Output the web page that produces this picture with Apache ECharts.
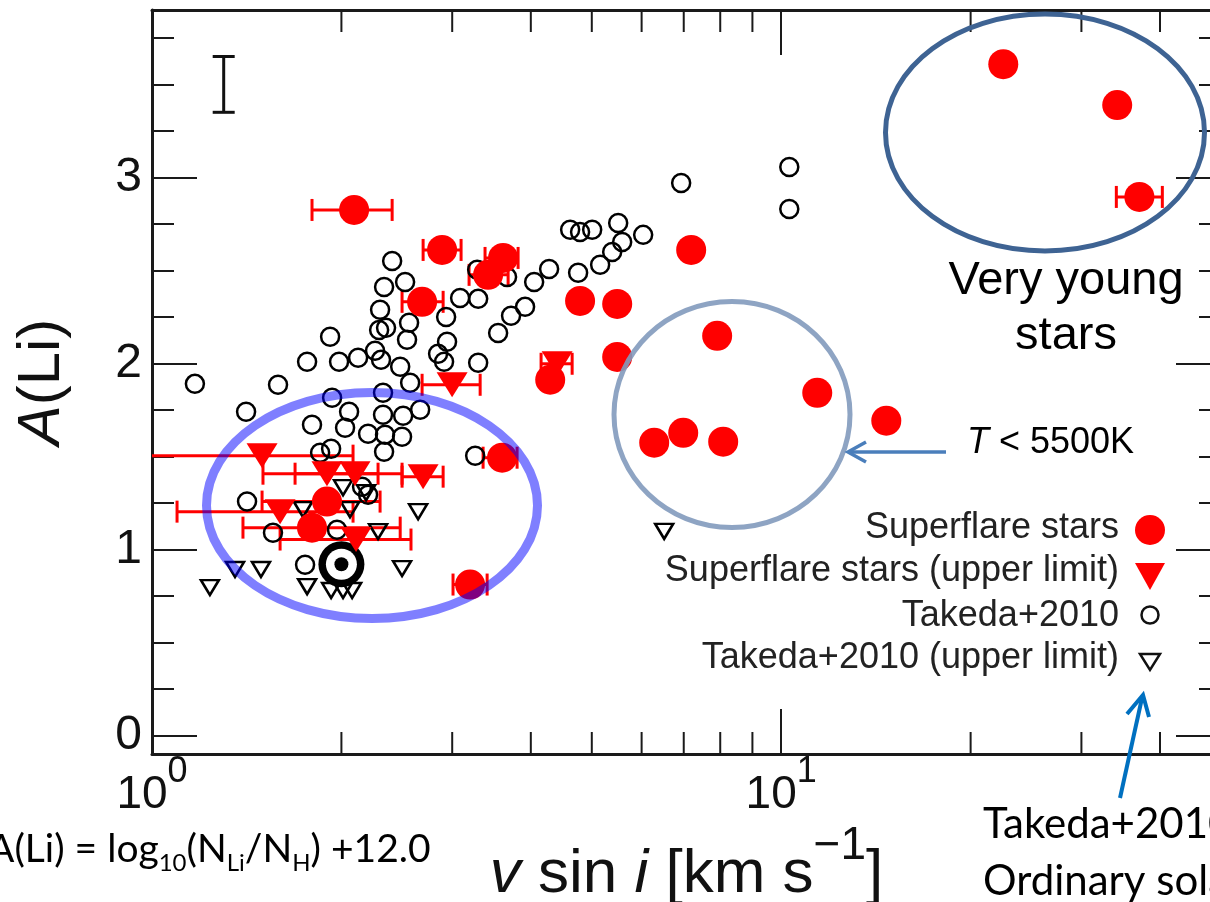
<!DOCTYPE html>
<html>
<head>
<meta charset="utf-8">
<title>A(Li) versus v sin i</title>
<script src="https://cdn.jsdelivr.net/npm/echarts@6/dist/echarts.min.js"></script>
<style>
  html, body { margin: 0; padding: 0; background: #fff; }
  #chart { width: 1210px; height: 902px; }
</style>
</head>
<body>
<div id="chart"></div>
<script>
// ---------- axes ----------
const xRange = [1, 50];            // v sin i [km/s], logarithmic
const yRange = [-0.1, 3.9];        // A(Li)
const xMajorTicks = [1, 10];
const xMajorExponents = ['0', '1'];
const xMinorTicks = [2, 3, 4, 5, 6, 7, 8, 9, 20, 30, 40];
const yTickLabels = ['0', '1', '2', '3'];

// ---------- superflare stars, Li detected ----------
const sfVsini = [2.095, 2.891, 2.687, 3.421, 3.614, 4.790, 5.487, 7.193, 5.487, 7.911, 4.294, 6.283,
                 6.987, 8.087, 11.41, 14.69, 22.54, 34.20, 37.09, 3.601, 3.203, 1.897, 1.796];
const sfALi   = [2.825, 2.610, 2.331, 2.476, 2.567, 2.336, 2.320, 2.610, 2.035, 2.148, 1.912, 1.574,
                 1.627, 1.579, 1.842, 1.692, 3.609, 3.389, 2.895, 1.493, 0.811, 1.257, 1.117];
const sfErrLo = [1.796, 2.697, 2.497, 3.191, 3.383, null, null, null, null, null, null, null,
                 null, null, null, null, null, null, 34.09, 3.359, 3.009, 1.496, 1.395];
const sfErrHi = [2.408, 3.099, 2.902, 3.681, 3.818, null, null, null, null, null, null, null,
                 null, null, null, null, null, null, 40.34, 3.804, 3.409, 2.304, 2.480];

// ---------- superflare stars, Li upper limits ----------
const sfulVsini = [1.496, 1.897, 2.102, 2.697, 1.598, 2.110, 2.999, 4.404];
const sfulALi   = [1.504, 1.407, 1.407, 1.391, 1.203, 1.053, 1.885, 1.998];
const sfulErrLo = [0.85, 1.688, 1.501, 2.497, 1.096, 1.598, 2.687, 4.153];
const sfulErrHi = [2.087, 2.497, 2.287, 2.902, 2.087, 2.580, 3.323, 4.653];

// ---------- Takeda et al. 2010, Li detected ----------
const tkVsini = [1.170, 1.411, 1.586, 1.764, 1.919, 1.983, 2.126, 2.262, 2.312, 2.480, 2.572, 1.933,
                 1.796, 2.027, 2.057, 2.205, 2.329, 2.329, 2.507, 2.346, 2.497, 2.668, 2.338, 1.850,
                 1.926, 2.157, 2.205, 1.416, 1.557, 1.751, 1.968, 3.263,
                 2.408, 2.525, 2.338, 2.304, 2.296, 2.355, 2.562, 2.543, 2.934, 3.088, 3.299, 3.287,
                 3.667, 4.049, 4.277, 3.917, 3.721, 3.549, 2.849, 2.944, 2.912, 3.299, 4.619, 4.790,
                 5.007, 5.507, 4.756, 5.155, 5.387, 5.588, 6.034, 6.934, 10.30, 10.30];
const tkALi   = [1.890, 1.740, 1.885, 2.009, 2.143, 2.009, 2.030, 2.068, 2.019, 1.982, 1.896, 1.815,
                 1.670, 1.654, 1.740, 1.622, 1.842, 1.724, 1.719, 1.617, 1.606, 1.751, 1.525, 1.520,
                 1.541, 1.337, 1.294, 1.257, 1.090, 0.918, 1.106, 1.504,
                 2.551, 2.438, 2.411, 2.288, 2.180, 2.191, 2.218, 2.127, 2.250, 2.352, 2.347, 2.503,
                 2.465, 2.438, 2.508, 2.304, 2.256, 2.164, 2.052, 2.116, 2.009, 2.003, 2.718, 2.707,
                 2.718, 2.755, 2.487, 2.530, 2.599, 2.653, 2.691, 2.970, 3.056, 2.830];

// ---------- Takeda et al. 2010, Li upper limits ----------
const tkulVsini = [1.236, 1.355, 1.490, 1.764, 1.926, 2.012, 2.080, 2.497, 2.648, 2.287, 1.738, 2.064,
                   2.012, 2.189, 6.516];
const tkulALi   = [0.795, 0.892, 0.892, 0.800, 0.779, 0.779, 0.779, 0.897, 1.203, 1.096, 1.214, 1.214,
                   1.332, 1.305, 1.097];

// ---------- the Sun ----------
const sunVsini = [2.0];
const sunALi = [0.92];

// ---------- typical A(Li) uncertainty ----------
const typErrVsini = [1.3];
const typErrLo = [3.35];
const typErrHi = [3.65];

// ---------- styling ----------
const FONT = '"Liberation Sans", Arial, Helvetica, sans-serif';
const NOTE_FONT = 'Lato, "Liberation Sans", sans-serif';
const AXIS_COLOR = '#1a1a1a';
const RED = '#ff0000';
const TRI_DOWN = 'path://M0,0L30,0L15,25Z';

const pairs = (xs, ys) => xs.map((v, i) => [v, ys[i]]);
const barRows = (xs, ys, lo, hi) => xs
  .map((v, i) => [lo[i], hi[i], ys[i]])
  .filter(r => r[0] != null && r[1] != null);

function horizontalBars(color, cap, width) {
  return function (params, api) {
    const a = api.coord([api.value(0), api.value(2)]);
    const b = api.coord([api.value(1), api.value(2)]);
    const st = { stroke: color, lineWidth: width };
    return {
      type: 'group',
      children: [
        { type: 'line', shape: { x1: a[0], y1: a[1], x2: b[0], y2: b[1] }, style: st },
        { type: 'line', shape: { x1: a[0], y1: a[1] - cap, x2: a[0], y2: a[1] + cap }, style: st },
        { type: 'line', shape: { x1: b[0], y1: b[1] - cap, x2: b[0], y2: b[1] + cap }, style: st }
      ]
    };
  };
}

function xLabel(v) {
  const i = xMajorTicks.findIndex(t => Math.abs(t - v) / t < 1e-6);
  return i < 0 ? '' : '{b|10}{s|' + xMajorExponents[i] + '}';
}

const axisLine = { show: true, onZero: false, lineStyle: { color: AXIS_COLOR, width: 3 } };
const majorTick = { show: true, inside: true, length: 45, lineStyle: { color: AXIS_COLOR, width: 2 } };
const minorTick = { show: true, splitNumber: 4, length: 22, lineStyle: { color: AXIS_COLOR, width: 2 } };

const chart = echarts.init(document.getElementById('chart'), null, { renderer: 'canvas' });

const option = {
  animation: false,
  backgroundColor: '#ffffff',
  grid: { left: 152, top: 10, width: 1069, height: 744, containLabel: false, outerBoundsMode: 'none' },
  xAxis: [
    {
      type: 'log', logBase: 10, min: xRange[0], max: xRange[1], position: 'bottom',
      axisLine: axisLine, axisTick: majorTick,
      splitLine: { show: false }, minorTick: { show: false }, minorSplitLine: { show: false },
      axisLabel: {
        show: true, margin: 0, formatter: xLabel, color: '#111',
        rich: {
          b: { fontFamily: FONT, fontSize: 46, lineHeight: 64, color: '#111', verticalAlign: 'bottom' },
          s: { fontFamily: FONT, fontSize: 36, lineHeight: 36, color: '#111', verticalAlign: 'top' }
        }
      },
      name: '{it|v}{r| sin }{it|i}{r| [km s}{sup|\u22121}{r|]}',
      nameLocation: 'middle', nameGap: 66,
      nameTextStyle: {
        fontFamily: FONT, fontSize: 62, color: '#111',
        rich: {
          r:   { fontFamily: FONT, fontSize: 62, lineHeight: 83, color: '#111', verticalAlign: 'bottom' },
          it:  { fontFamily: FONT, fontSize: 62, lineHeight: 83, color: '#111', fontStyle: 'italic', verticalAlign: 'bottom' },
          sup: { fontFamily: FONT, fontSize: 46, lineHeight: 46, color: '#111', verticalAlign: 'top' }
        }
      }
    },
    {
      type: 'log', logBase: 10, min: xRange[0], max: xRange[1], position: 'top',
      axisLine: axisLine, axisTick: majorTick, axisLabel: { show: false },
      splitLine: { show: false }, minorTick: { show: false }
    }
  ],
  yAxis: [
    {
      type: 'value', min: yRange[0], max: yRange[1], splitNumber: 4, position: 'left',
      axisLine: axisLine, axisTick: majorTick, minorTick: minorTick,
      splitLine: { show: false }, minorSplitLine: { show: false },
      axisLabel: {
        margin: 10, fontFamily: FONT, fontSize: 48, color: '#111',
        formatter: v => (yTickLabels.indexOf(String(v)) >= 0 ? String(v) : '')
      },
      name: '{a|A}(Li)', nameLocation: 'middle', nameGap: 80, nameRotate: 90,
      nameTextStyle: {
        fontFamily: FONT, fontSize: 60, color: '#111',
        rich: { a: { fontFamily: FONT, fontSize: 60, fontStyle: 'italic', color: '#111' } }
      }
    },
    {
      type: 'value', min: yRange[0], max: yRange[1], splitNumber: 4, position: 'right',
      axisLine: axisLine, axisTick: majorTick, minorTick: minorTick,
      splitLine: { show: false }, axisLabel: { show: false }
    }
  ],
  series: [
    // minor ticks of the logarithmic axis, bottom and top
    {
      type: 'custom', silent: true, clip: false,
      data: xMinorTicks.map(v => [v, yRange[0]]),
      encode: { x: 0, y: 1 },
      renderItem: function (params, api) {
        const b = api.coord([api.value(0), yRange[0]]);
        const t = api.coord([api.value(0), yRange[1]]);
        const st = { stroke: AXIS_COLOR, lineWidth: 2 };
        return {
          type: 'group', children: [
            { type: 'line', shape: { x1: b[0], y1: b[1], x2: b[0], y2: b[1] - 22 }, style: st },
            { type: 'line', shape: { x1: t[0], y1: t[1], x2: t[0], y2: t[1] + 22 }, style: st }
          ]
        };
      }
    },
    {
      name: 'Takeda+2010', type: 'scatter', silent: true,
      data: pairs(tkVsini, tkALi),
      symbol: 'circle', symbolSize: 18,
      itemStyle: { color: 'rgba(0,0,0,0)', borderColor: '#000', borderWidth: 2.5, opacity: 1 }
    },
    {
      name: 'Takeda+2010 (upper limit)', type: 'scatter', silent: true,
      data: pairs(tkulVsini, tkulALi),
      symbol: TRI_DOWN, symbolSize: [18, 15],
      itemStyle: { color: 'rgba(0,0,0,0)', borderColor: '#000', borderWidth: 2.5, opacity: 1 }
    },
    {
      type: 'custom', silent: true, clip: true,
      data: barRows(sfVsini, sfALi, sfErrLo, sfErrHi).concat(barRows(sfulVsini, sfulALi, sfulErrLo, sfulErrHi)),
      encode: { x: [0, 1], y: 2 },
      renderItem: horizontalBars(RED, 11, 3)
    },
    {
      name: 'Superflare stars', type: 'scatter', silent: true,
      data: pairs(sfVsini, sfALi),
      symbol: 'circle', symbolSize: 30,
      itemStyle: { color: RED, opacity: 1 }
    },
    {
      name: 'Superflare stars (upper limit)', type: 'scatter', silent: true,
      data: pairs(sfulVsini, sfulALi),
      symbol: TRI_DOWN, symbolSize: [31, 25],
      itemStyle: { color: RED, opacity: 1 }
    },
    {
      name: 'Sun', type: 'custom', silent: true,
      data: pairs(sunVsini, sunALi),
      encode: { x: 0, y: 1 },
      renderItem: function (params, api) {
        const p = api.coord([api.value(0), api.value(1)]);
        return {
          type: 'group', children: [
            { type: 'circle', shape: { cx: p[0], cy: p[1], r: 23 }, style: { fill: '#000' } },
            { type: 'circle', shape: { cx: p[0], cy: p[1], r: 15.5 }, style: { fill: '#fff' } },
            { type: 'circle', shape: { cx: p[0], cy: p[1], r: 7 }, style: { fill: '#000' } }
          ]
        };
      }
    },
    {
      type: 'custom', silent: true,
      data: typErrVsini.map((v, i) => [v, typErrLo[i], typErrHi[i]]),
      encode: { x: 0, y: [1, 2] },
      renderItem: function (params, api) {
        const a = api.coord([api.value(0), api.value(1)]);
        const b = api.coord([api.value(0), api.value(2)]);
        const st = { stroke: '#111', lineWidth: 3 };
        return {
          type: 'group', children: [
            { type: 'line', shape: { x1: a[0], y1: a[1], x2: b[0], y2: b[1] }, style: st },
            { type: 'line', shape: { x1: a[0] - 11, y1: a[1], x2: a[0] + 11, y2: a[1] }, style: st },
            { type: 'line', shape: { x1: b[0] - 11, y1: b[1], x2: b[0] + 11, y2: b[1] }, style: st }
          ]
        };
      }
    }
  ],
  graphic: [
    // legend
    { type: 'text', x: 1119, y: 528, z: 100, silent: true,
      style: { text: 'Superflare stars', fontFamily: FONT, fontSize: 36, fill: '#222', textAlign: 'right', textVerticalAlign: 'middle' } },
    { type: 'circle', z: 100, silent: true, shape: { cx: 1150, cy: 530, r: 15 }, style: { fill: RED } },
    { type: 'text', x: 1119, y: 571, z: 100, silent: true,
      style: { text: 'Superflare stars (upper limit)', fontFamily: FONT, fontSize: 36, fill: '#222', textAlign: 'right', textVerticalAlign: 'middle' } },
    { type: 'polygon', z: 100, silent: true, shape: { points: [[1135, 563], [1165, 563], [1150, 590]] }, style: { fill: RED } },
    { type: 'text', x: 1119, y: 616, z: 100, silent: true,
      style: { text: 'Takeda+2010', fontFamily: FONT, fontSize: 36, fill: '#222', textAlign: 'right', textVerticalAlign: 'middle' } },
    { type: 'circle', z: 100, silent: true, shape: { cx: 1150, cy: 615, r: 8.5 }, style: { fill: 'none', stroke: '#111', lineWidth: 2.5 } },
    { type: 'text', x: 1119, y: 658, z: 100, silent: true,
      style: { text: 'Takeda+2010 (upper limit)', fontFamily: FONT, fontSize: 36, fill: '#222', textAlign: 'right', textVerticalAlign: 'middle' } },
    { type: 'polygon', z: 100, silent: true, shape: { points: [[1140, 654], [1160, 654], [1150, 670]] }, style: { fill: 'none', stroke: '#111', lineWidth: 2.5 } },

    // highlighted groups
    { type: 'ellipse', z: 100, silent: true, shape: { cx: 372, cy: 505.5, rx: 165.5, ry: 113 },
      style: { fill: 'none', stroke: 'rgba(0,0,255,0.5)', lineWidth: 9 } },
    { type: 'ellipse', z: 100, silent: true, shape: { cx: 732, cy: 414.5, rx: 118, ry: 113 },
      style: { fill: 'none', stroke: 'rgba(130,154,188,0.9)', lineWidth: 5 } },
    { type: 'ellipse', z: 100, silent: true, shape: { cx: 1045, cy: 132.5, rx: 159.5, ry: 118.5 },
      style: { fill: 'none', stroke: '#3e6393', lineWidth: 5 } },

    { type: 'text', x: 1066, y: 281, z: 100, silent: true,
      style: { text: 'Very young', fontFamily: FONT, fontSize: 47, fill: '#000', textAlign: 'center', textVerticalAlign: 'middle' } },
    { type: 'text', x: 1066, y: 336, z: 100, silent: true,
      style: { text: 'stars', fontFamily: FONT, fontSize: 47, fill: '#000', textAlign: 'center', textVerticalAlign: 'middle' } },

    // arrow to the cool-star group
    { type: 'polyline', z: 100, silent: true, shape: { points: [[946, 452], [849, 452]] },
      style: { stroke: '#4a7ebb', lineWidth: 3.5 } },
    { type: 'polyline', z: 100, silent: true, shape: { points: [[866, 442], [848, 452], [866, 462]] },
      style: { stroke: '#4a7ebb', lineWidth: 3.5, fill: 'none' } },
    { type: 'text', x: 967, y: 443, z: 100, silent: true,
      style: {
        text: '{it|T}{r| < 5500K}', textAlign: 'left', textVerticalAlign: 'middle',
        rich: {
          it: { fontFamily: FONT, fontSize: 36, fontStyle: 'italic', fill: '#000' },
          r:  { fontFamily: FONT, fontSize: 36, fill: '#000' }
        }
      } },

    // arrow to the Sun-like comparison sample
    { type: 'polyline', z: 100, silent: true, shape: { points: [[1120, 798], [1142, 698]] },
      style: { stroke: '#0070c0', lineWidth: 4 } },
    { type: 'polyline', z: 100, silent: true, shape: { points: [[1127, 714], [1143, 695], [1149, 717]] },
      style: { stroke: '#0070c0', lineWidth: 4, fill: 'none' } },
    { type: 'text', x: 983, y: 824, z: 100, silent: true,
      style: { text: 'Takeda+2010', fontFamily: NOTE_FONT, fontSize: 42, fill: '#000', textAlign: 'left', textVerticalAlign: 'middle' } },
    { type: 'text', x: 983, y: 881, z: 100, silent: true,
      style: { text: 'Ordinary solar-type stars', fontFamily: NOTE_FONT, fontSize: 42, fill: '#000', textAlign: 'left', textVerticalAlign: 'middle' } },

    // definition of A(Li)
    { type: 'text', x: -12, y: 827, z: 100, silent: true,
      style: {
        text: '{n|A(Li) = log}{s|10}{n|(N}{s|Li}{n|/N}{s|H}{n|) +12.0}',
        textAlign: 'left', textVerticalAlign: 'top',
        rich: {
          n: { fontFamily: NOTE_FONT, fontSize: 39, lineHeight: 48, padding: [0, 0, 6, 0], verticalAlign: 'bottom', fill: '#000' },
          s: { fontFamily: NOTE_FONT, fontSize: 24, lineHeight: 28, verticalAlign: 'bottom', fill: '#000' }
        }
      } }
  ]
};

chart.setOption(option);
</script>
</body>
</html>
